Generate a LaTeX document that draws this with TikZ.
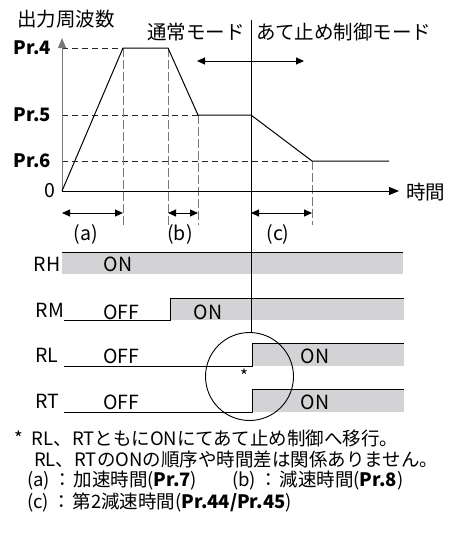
\documentclass[tikz,border=0pt]{standalone}
\usepackage{fontspec}
\setmainfont{Noto Sans CJK JP}
\usetikzlibrary{arrows.meta}
\definecolor{ongray}{RGB}{211,211,213}
\definecolor{axgray}{RGB}{120,120,120}
\begin{document}
\begin{tikzpicture}[x=1pt,y=-1pt,
  lbl/.style={inner sep=0pt,font=\fontsize{19.5}{22}\selectfont},
  plbl/.style={inner sep=0pt,anchor=east,font=\fontsize{18.5}{22}\selectfont\bfseries},
  curve/.style={line width=1pt,line join=miter},
  hdash/.style={line width=0.8pt,black!85,dash pattern=on 6pt off 4pt},
  vdash/.style={line width=0.9pt,axgray,dash pattern=on 9pt off 3pt},
  dimarrow/.style={line width=1pt,{Triangle[length=8pt,width=7pt]}-{Triangle[length=8pt,width=7pt]}},
  sig/.style={line width=1pt},
  note/.style={inner sep=0pt,anchor=west,font=\fontsize{18.5}{22}\selectfont}]
\useasboundingbox (0,0) rectangle (459,536);
% ---------- coordinates of the frequency curve
\coordinate (O) at (62,191);
\coordinate (ytop) at (62,38);
\coordinate (xend) at (399,191);
\coordinate (p1) at (123,48);
\coordinate (p2) at (168,48);
\coordinate (p3) at (198,115);
\coordinate (p4) at (251,115);
\coordinate (p5) at (312,161);
\coordinate (p6) at (389,161);
\coordinate (y4) at (62,48);
\coordinate (y5) at (62,115);
\coordinate (y6) at (62,161);
\coordinate (d1) at (123,225);
\coordinate (d2) at (168,225);
\coordinate (d3) at (198,225);
\coordinate (d5) at (312,225);
\coordinate (mtop) at (251,20);
\coordinate (mbot) at (251,332);
\coordinate (ml) at (197,61);
\coordinate (mr) at (304,61);
\coordinate (a1) at (62,213);
\coordinate (a2) at (123,213);
\coordinate (b1) at (168,213);
\coordinate (b2) at (198,213);
\coordinate (c1) at (251,213);
\coordinate (c2) at (312,213);
% ---------- dashed guides
\draw[hdash] (y4) -- (p1);
\draw[hdash] (y5) -- (p3);
\draw[hdash] (y6) -- (p5);
\draw[vdash] (p1) -- (d1);
\draw[vdash] (p2) -- (d2);
\draw[vdash] (p3) -- (d3);
\draw[vdash] (p5) -- (d5);
% ---------- axes
\draw[line width=1pt,axgray,-{Triangle[length=10pt,width=8pt]}] (O) -- (ytop);
\draw[line width=1pt,-{Triangle[length=10pt,width=8pt]}] (O) -- (xend);
% ---------- curve
\draw[curve] (O) -- (p1) -- (p2) -- (p3) -- (p4) -- (p5) -- (p6);
% ---------- mode arrows
\draw[dimarrow] (ml) -- (mr);
\draw[dimarrow] (a1) -- (a2);
\draw[dimarrow] (b1) -- (b2);
\draw[dimarrow] (c1) -- (c2);
% ---------- labels of the chart
\node[lbl] (ylabel) at (66,19) {出力周波数};
\node[lbl,anchor=west] (xlabel) at (406,192) {時間};
\node[plbl] (pr4) at (51,48) {Pr.4};
\node[plbl] (pr5) at (51,115) {Pr.5};
\node[plbl] (pr6) at (51,161) {Pr.6};
\node[lbl,anchor=east] (zero) at (56,191) {0};
\node[lbl,anchor=east] (normal) at (245,32) {通常モード};
\node[lbl,anchor=west] (stopper) at (256,32) {あて止め制御モード};
\node[lbl] (la) at (86,234) {(a)};
\node[lbl] (lb) at (180,234) {(b)};
\node[lbl] (lc) at (278,234) {(c)};
% ---------- signals
\coordinate (rh1) at (62,252); \coordinate (rh2) at (403,252);
\fill[ongray] (62,252) rectangle (403,274);
\draw[sig] (rh1) -- (rh2);
\coordinate (rm0) at (64,320); \coordinate (rm1) at (170,320);
\coordinate (rm2) at (170,298); \coordinate (rm3) at (404,298);
\fill[ongray] (170,298) rectangle (404,320);
\draw[sig] (rm0) -- (rm1) -- (rm2) -- (rm3);
\coordinate (rl0) at (64,366); \coordinate (rl1) at (252,366);
\coordinate (rl2) at (252,343); \coordinate (rl3) at (404,343);
\fill[ongray] (252,343) rectangle (404,366);
\draw[sig] (rl0) -- (rl1) -- (rl2) -- (rl3);
\coordinate (rt0) at (64,412); \coordinate (rt1) at (252,412);
\coordinate (rt2) at (252,389); \coordinate (rt3) at (404,389);
\fill[ongray] (252,389) rectangle (404,412);
\draw[sig] (rt0) -- (rt1) -- (rt2) -- (rt3);
\draw[line width=1pt] (mtop) -- (mbot);
\node[lbl] (rh) at (47,264) {RH};
\node[lbl] (rhon) at (118,264) {ON};
\node[lbl] (rm) at (50,310) {RM};
\node[lbl] (rmoff) at (121,312) {OFF};
\node[lbl] (rmon) at (208,312) {ON};
\node[lbl] (rl) at (47,355) {RL};
\node[lbl] (rloff) at (121,356) {OFF};
\node[lbl] (rlon) at (315,356) {ON};
\node[lbl] (rt) at (47,401) {RT};
\node[lbl] (rtoff) at (121,402) {OFF};
\node[lbl] (rton) at (315,402) {ON};
% ---------- circle
\node[draw,circle,line width=0.9pt,minimum size=88pt,inner sep=0pt] (ring) at (249.5,376.5) {};
\node[inner sep=0pt,font=\fontsize{17}{18}\selectfont] (star) at (244,376) {*};
% ---------- notes
\node[note] (n1) at (14,438) {*\hspace{9pt}RL、RTともにONにてあて止め制御へ移行。};
\node[note] (n2) at (34,459) {RL、RTのONの順序や時間差は関係ありません。};
\node[note] (n3) at (27,481) {(a)\hspace{3pt}：\hspace{2pt}加速時間(\textbf{Pr.7})};
\node[note] (n4) at (232,481) {(b)\hspace{3pt}：\hspace{2pt}減速時間(\textbf{Pr.8})};
\node[note] (n5) at (27,502) {(c)\hspace{3pt}：\hspace{2pt}第2減速時間(\textbf{Pr.44/Pr.45})};
\end{tikzpicture}
\end{document}
